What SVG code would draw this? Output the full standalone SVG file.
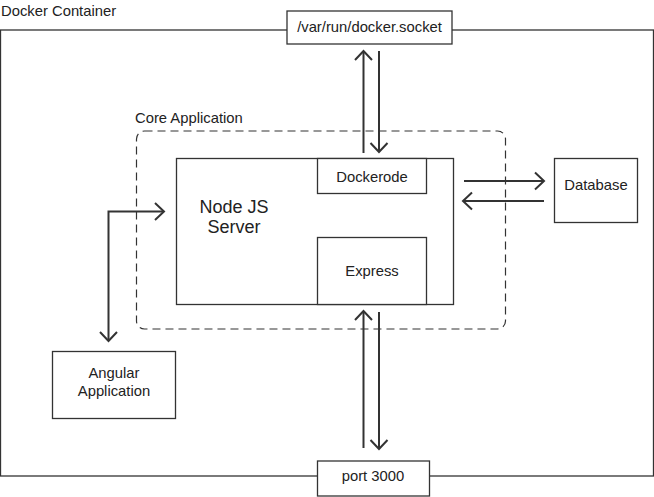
<svg xmlns="http://www.w3.org/2000/svg" width="654" height="497" viewBox="0 0 654 497">
<defs>
<style>
.box{fill:#fff;stroke:#333;stroke-width:1.3}
.frame{fill:none;stroke:#333;stroke-width:1.3}
.dash{fill:none;stroke:#333;stroke-width:1.2;stroke-dasharray:8 5}
.lbl{font-family:"Liberation Sans",Arial,Helvetica,sans-serif;font-size:14.8px;fill:#222}
.mid{text-anchor:middle}
.big{font-size:18px}
.conn{fill:none;stroke:#333;stroke-width:2}
</style>
<marker id="arr" viewBox="-12 -10 14 20" refX="0" refY="0" markerWidth="14" markerHeight="20" markerUnits="userSpaceOnUse" orient="auto-start-reverse" overflow="visible">
<path d="M-9,-8.5 L0,0 L-9,8.5" fill="none" stroke="#333" stroke-width="2"/>
</marker>
</defs>
<rect width="654" height="497" fill="#fff"/>
<g id="docker-container">
<rect class="frame" x="0.5" y="30" width="653" height="446"/>
<text class="lbl" x="1" y="16">Docker Container</text>
</g>
<g id="core-application">
<rect class="dash" x="136.5" y="131" width="369" height="198" rx="8" ry="8"/>
<text class="lbl" x="135" y="123">Core Application</text>
</g>
<g id="node-js-server">
<rect class="box" x="176.5" y="158.5" width="277" height="146"/>
<text class="lbl big mid" x="234" y="213">Node JS</text>
<text class="lbl big mid" x="234" y="233">Server</text>
</g>
<g id="dockerode">
<rect class="box" x="317.5" y="158.5" width="109" height="35"/>
<text class="lbl mid" x="372" y="182">Dockerode</text>
</g>
<g id="express">
<rect class="box" x="317.5" y="237.5" width="109" height="67"/>
<text class="lbl mid" x="372" y="276">Express</text>
</g>
<g id="docker-socket">
<rect class="box" x="287" y="11" width="165" height="33"/>
<text class="lbl mid" x="369.5" y="32">/var/run/docker.socket</text>
</g>
<g id="database">
<rect class="box" x="554.5" y="158.5" width="83" height="64"/>
<text class="lbl mid" x="596" y="190">Database</text>
</g>
<g id="angular-application">
<rect class="box" x="52.5" y="351.5" width="123" height="67"/>
<text class="lbl mid" x="114" y="378">Angular</text>
<text class="lbl mid" x="114" y="396">Application</text>
</g>
<g id="port-3000">
<rect class="box" x="317.5" y="461" width="112" height="35"/>
<text class="lbl mid" x="373" y="481">port 3000</text>
</g>
<g id="connectors">
<path class="conn" d="M363.5,153 L363.5,51" marker-end="url(#arr)"/>
<path class="conn" d="M379,51 L379,152" marker-end="url(#arr)"/>
<path class="conn" d="M464,181 L544,181" marker-end="url(#arr)"/>
<path class="conn" d="M544,201 L463,201" marker-end="url(#arr)"/>
<path class="conn" d="M108.5,341 L108.5,211.5 L164,211.5" marker-start="url(#arr)" marker-end="url(#arr)"/>
<path class="conn" d="M363.5,448 L363.5,311" marker-end="url(#arr)"/>
<path class="conn" d="M379,312 L379,449" marker-end="url(#arr)"/>
</g>
</svg>
